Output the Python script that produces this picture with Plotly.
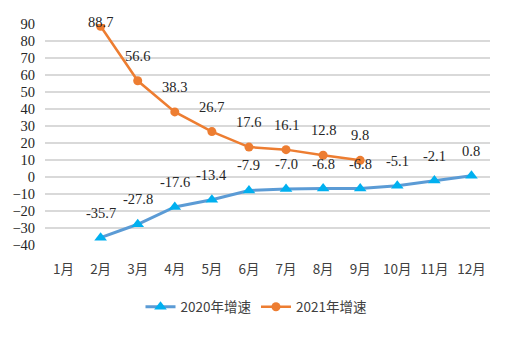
import plotly.graph_objects as go

months = ["1月", "2月", "3月", "4月", "5月", "6月", "7月", "8月", "9月", "10月", "11月", "12月"]
growth_2020 = [None, -35.7, -27.8, -17.6, -13.4, -7.9, -7.0, -6.8, -6.8, -5.1, -2.1, 0.8]
growth_2021 = [None, 88.7, 56.6, 38.3, 26.7, 17.6, 16.1, 12.8, 9.8, None, None, None]
y_ticks = [90, 80, 70, 60, 50, 40, 30, 20, 10, 0, -10, -20, -30, -40]

fig = go.Figure()
fig.add_trace(go.Scatter(
    x=months, y=growth_2020, name="2020年增速", mode="lines+markers",
    line=dict(color="#5B9BD5", width=3),
    marker=dict(symbol="triangle-up", size=11, color="#00B0F0"),
))
fig.add_trace(go.Scatter(
    x=months, y=growth_2021, name="2021年增速", mode="lines+markers",
    line=dict(color="#ED7D31", width=2.5),
    marker=dict(symbol="circle", size=9, color="#ED7D31"),
))

ymax, ymin = 90, -40
px_per_unit = 221 / (ymax - ymin)
annotations = []
for series in (growth_2020, growth_2021):
    for m, v in zip(months, series):
        if v is None:
            continue
        shift = min(25, (ymax - v) * px_per_unit + 2)
        annotations.append(dict(
            x=m, y=v, text=f"{v:.1f}", showarrow=False, yshift=shift,
            font=dict(family="Liberation Serif", size=14.5, color="#262626"),
        ))

fig.update_layout(
    width=512, height=339,
    margin=dict(l=40, r=22, t=24, b=94),
    paper_bgcolor="white", plot_bgcolor="white",
    showlegend=True,
    legend=dict(orientation="h", xref="container", yref="container",
                x=0.5, xanchor="center", y=1 - 307 / 339, yanchor="middle",
                font=dict(family="Noto Sans CJK SC", size=13.5, color="#404040"),
                itemwidth=30, tracegroupgap=0),
    annotations=annotations,
)
fig.update_xaxes(
    type="category", categoryorder="array", categoryarray=months,
    range=[-0.5, 11.5], showgrid=False, showline=False, zeroline=False,
    ticks="outside", ticklen=12, tickcolor="rgba(0,0,0,0)",
    tickfont=dict(family="Noto Sans CJK SC", size=13.5, color="#404040"),
)
fig.update_yaxes(
    range=[ymin, ymax], tickvals=y_ticks, showgrid=True, gridcolor="#D9D9D9",
    gridwidth=1.5, zeroline=False, showline=False,
    ticks="outside", ticklen=6, tickcolor="rgba(0,0,0,0)",
    tickfont=dict(family="Liberation Serif", size=14.5, color="#262626"),
)

fig.write_html("out.html")
